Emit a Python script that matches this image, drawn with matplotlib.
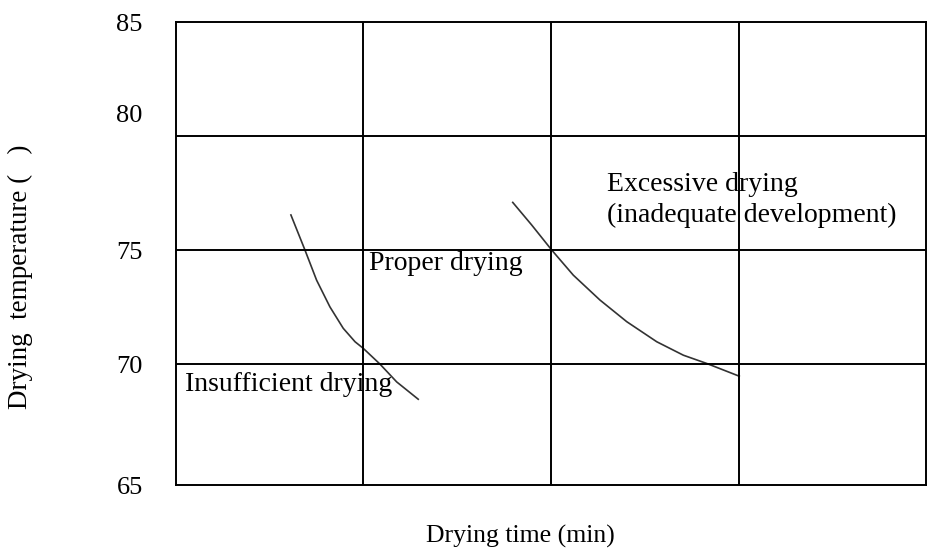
# Drying temperature vs drying time diagram
import matplotlib.pyplot as plt
import matplotlib.transforms as mtransforms

plt.rcParams['font.family'] = ['Liberation Serif', 'DejaVu Serif']

# data (time in grid units, temperature in degrees)
lower_time = [0.613, 0.688, 0.750, 0.821, 0.892, 0.955, 0.999, 1.088, 1.177, 1.292]
lower_temp = [76.54, 75.0, 73.68, 72.51, 71.57, 70.98, 70.69, 70.0, 69.22, 68.46]
upper_time = [1.796, 1.897, 2.004, 2.119, 2.261, 2.404, 2.564, 2.706, 2.830, 3.004]
upper_temp = [77.09, 76.10, 75.0, 73.90, 72.81, 71.86, 70.98, 70.39, 70.03, 69.47]
y_ticks = [65, 70, 75, 80, 85]
x_grid = [1, 2, 3]

fig = plt.figure(figsize=(9.32, 5.49), dpi=100)
ax = fig.add_axes([0.1888, 0.1166, 0.8048, 0.8433])

ax.plot(lower_time, lower_temp, color='#333333', lw=1.2)
ax.plot(upper_time, upper_temp, color='#333333', lw=1.2)

ax.set_xlim(0, 4)
ax.set_ylim(64.7, 85)
ax.set_yticks(y_ticks)
ax.set_yticklabels([str(t) for t in y_ticks], fontsize=19)
ax.set_xticks(x_grid)
ax.set_xticklabels([])
ax.tick_params(length=0, pad=24)

# grid lines
for g in x_grid:
    ax.axvline(g, color='black', lw=1.4)
for t in y_ticks[1:-1]:
    ax.axhline(t, color='black', lw=1.4)
for s in ax.spines.values():
    s.set_linewidth(1.4)

# the "65" and "80" labels sit a bit off their lines in the original
labels = ax.get_yticklabels()
for lab, dy in [(labels[0], -7), (labels[3], 23)]:
    lab.set_transform(lab.get_transform() +
                      mtransforms.ScaledTranslation(0, dy / 100, fig.dpi_scale_trans))

# labels
ax.text(0.05, 69.1, 'Insufficient drying', fontsize=20, va='center', ha='left')
ax.text(1.03, 74.4, 'Proper drying', fontsize=20, va='center', ha='left')
ax.text(2.3, 77.2, 'Excessive drying\n(inadequate development)', fontsize=20,
        va='center', ha='left', linespacing=1.3)

fig.text(0.558, 0.022, 'Drying time (min)', fontsize=18.5, ha='center', va='center')
fig.text(0.022, 0.495, 'Drying  temperature (   )', fontsize=19.5, ha='center',
         va='center', rotation=90)

fig.savefig('out.png', dpi=100)
